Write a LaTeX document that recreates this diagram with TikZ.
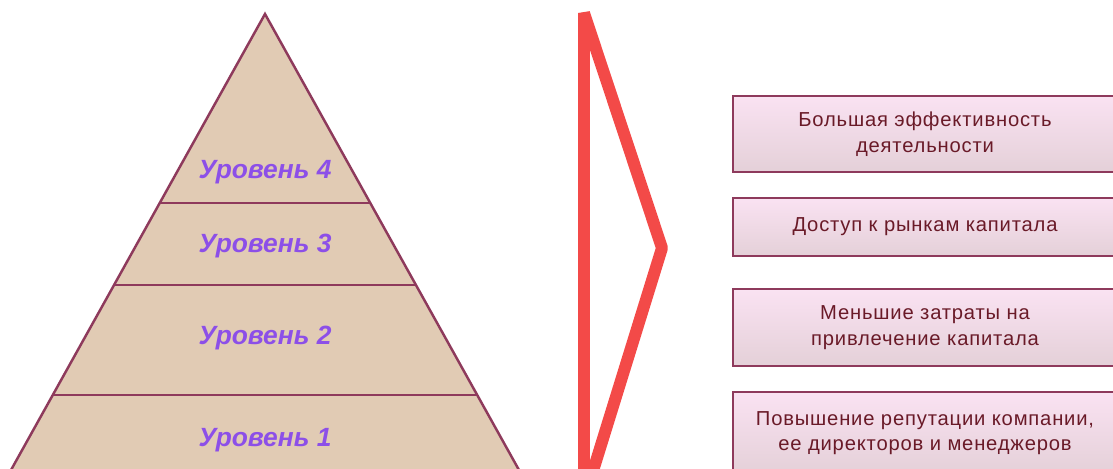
\documentclass[tikz,border=0pt]{standalone}
\usepackage{fontspec}
\setmainfont{Liberation Sans}
\newfontfamily\boxfont[LetterSpace=4]{Liberation Sans}
\usetikzlibrary{positioning}
\definecolor{pyrfill}{HTML}{E1CBB4}
\definecolor{pyrline}{HTML}{8E3A5C}
\definecolor{levtext}{HTML}{8C4FE8}
\definecolor{chevred}{HTML}{F34A48}
\definecolor{boxtop}{HTML}{FAE2F2}
\definecolor{boxbot}{HTML}{E4D0D8}
\definecolor{boxline}{HTML}{8E3A5C}
\definecolor{boxtext}{HTML}{6A1A28}
\tikzset{
    level/.style={font=\bfseries\itshape\fontsize{15}{17}\selectfont, text=levtext},
    tier/.style={draw=pyrline, line width=1.4pt},
    benefit/.style={rectangle, draw=boxline, line width=1.2pt, top color=boxtop, bottom color=boxbot, text=boxtext, align=center, minimum width=7.68cm, font=\boxfont\fontsize{11.5}{14.5}\selectfont},
    chevron/.style={draw=chevred, line width=6.8pt, line join=bevel}
}

\begin{document}
\begin{tikzpicture}[x=0.02cm, y=-0.02cm, node distance=0.48cm]
    \clip (0,0) rectangle (1113,468);
    % pyramid
    \filldraw[tier, fill=pyrfill, line join=miter] (265,14) -- (-5.7,500) -- (535.7,500) -- cycle;
    \draw[tier] (159.7,203) -- (370.3,203);
    \draw[tier] (114.1,285) -- (415.9,285);
    \draw[tier] (52.8,395) -- (477.2,395);
    \node (lev4) [level] at (265,172) {Уровень 4};
    \node (lev3) [level] at (265,246) {Уровень 3};
    \node (lev2) [level] at (265,338) {Уровень 2};
    \node (lev1) [level] at (265,440) {Уровень 1};

    % red chevron
    \draw[chevron] (584,500) -- (584,13) -- (662,248) -- (584,500);

    % benefits
    \node (eff) [benefit, minimum height=1.52cm] at (925,134) {Большая эффективность\\деятельности};
    \node (access) [benefit, minimum height=1.16cm, below=of eff] {Доступ к рынкам капитала};
    \node (cost) [benefit, minimum height=1.54cm, below=0.62cm of access] {Меньшие затраты на\\привлечение капитала};
    \node (rep) [benefit, minimum height=1.64cm, below=of cost] {Повышение репутации компании,\\ее директоров и менеджеров};
\end{tikzpicture}
\end{document}
